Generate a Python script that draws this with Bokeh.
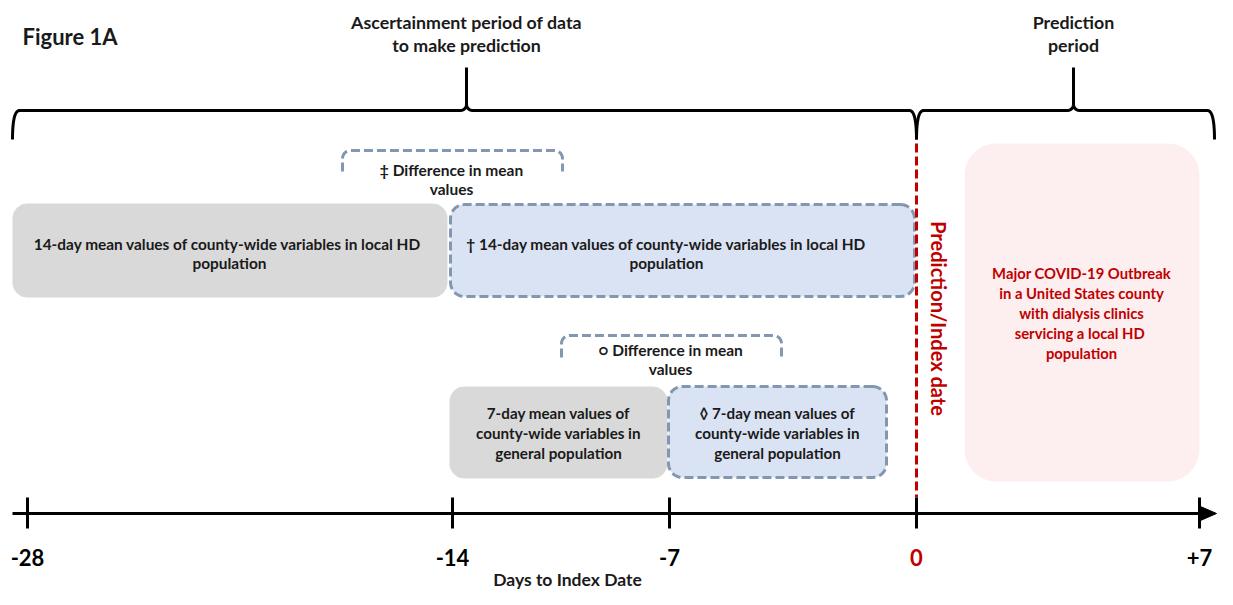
import numpy as np
from bokeh.plotting import figure
from bokeh.models import Range1d
from bokeh.core.properties import value
from bokeh.embed import file_html
from bokeh.resources import INLINE

# ---------------- data (texts / labels) ----------------
title = "Figure 1A"
period_labels = [["Ascertainment period of data", "to make prediction"],
                 ["Prediction", "period"]]
tick_labels = ["-28", "-14", "-7", "0", "+7"]
tick_days = [-28, -14, -7, 0, 7]
axis_title = "Days to Index Date"
box14_text = ["14-day mean values of county-wide variables in local  HD", "population"]
box14b_text = ["\u2020 14-day mean values of county-wide variables in local HD", "population"]
diff1_text = ["\u2021 Difference in mean", "values"]
diff2_text = ["\u25cb Difference in mean", "values"]
box7_text = ["7-day mean values of", "county-wide variables in", "general population"]
box7b_text = ["\u25ca 7-day mean values of", "county-wide variables in", "general population"]
outcome_text = ["Major COVID-19 Outbreak", "in a United States county",
                "with dialysis clinics", "servicing a local  HD", "population"]
index_label = "Prediction/Index date"

# ---------------- layout (pixel coordinates of the picture) ----------------
W, H = 1217, 589
tick_px = [27, 452, 669, 916, 1199]
FONT = value("Lato")
DARK = "#1a1a1a"
RED = "#c00000"
DASHC = "#8497b0"

p = figure(width=W, height=H, output_backend="svg", toolbar_location=None,
           x_range=Range1d(0, W), y_range=Range1d(H, 0),
           min_border=0, outline_line_color=None)
p.axis.visible = False
p.grid.visible = False
p.background_fill_color = "white"


def rrect(x0, y0, x1, y1, r, n=12):
    xs, ys = [], []
    corners = [(x1 - r, y0 + r, -np.pi / 2, 0), (x1 - r, y1 - r, 0, np.pi / 2),
               (x0 + r, y1 - r, np.pi / 2, np.pi), (x0 + r, y0 + r, np.pi, 1.5 * np.pi)]
    for cx, cy, a0, a1 in corners:
        t = np.linspace(a0, a1, n)
        xs += list(cx + r * np.cos(t))
        ys += list(cy + r * np.sin(t))
    return xs, ys


def open_bracket(x0, y0, x1, yb, r=8, n=10):
    xs, ys = [x0], [yb]
    t = np.linspace(np.pi, 1.5 * np.pi, n)
    xs += list(x0 + r + r * np.cos(t)); ys += list(y0 + r + r * np.sin(t))
    t = np.linspace(-np.pi / 2, 0, n)
    xs += list(x1 - r + r * np.cos(t)); ys += list(y0 + r + r * np.sin(t))
    xs.append(x1); ys.append(yb)
    return xs, ys


def quad(p0, c, p1, n=12):
    t = np.linspace(0, 1, n)[:, None]
    pts = (1 - t) ** 2 * np.array(p0) + 2 * (1 - t) * t * np.array(c) + t ** 2 * np.array(p1)
    return list(pts[:, 0]), list(pts[:, 1])


def brace(xl, xr, xm, yl=110, yend=139, ytop=67, r=7):
    xs, ys = [], []
    for a, b in [quad((xl, yend), (xl, yl), (xl + r, yl)),
                 quad((xm - r, yl), (xm, yl), (xm, yl - r))]:
        xs += a; ys += b
    xs += [xm]; ys += [ytop]
    xs2, ys2 = [], []
    for a, b in [quad((xm, yl - r), (xm, yl), (xm + r, yl)),
                 quad((xr - r, yl), (xr, yl), (xr, yend))]:
        xs2 += a; ys2 += b
    p.line(xs, ys, line_color="black", line_width=3)
    p.line(xs2, ys2, line_color="black", line_width=3)


def lines(texts, x, y0, dy, size, color=DARK, align="center"):
    p.text(x=[x] * len(texts), y=[y0 + i * dy for i in range(len(texts))], text=texts,
           text_font=FONT, text_font_style="bold", text_font_size=size,
           text_color=color, text_align=align, text_baseline="middle")


# title and period headers
lines([title], 22, 36, 0, "22px", align="left")
lines(period_labels[0], 466, 21, 23, "17.8px")
lines(period_labels[1], 1073, 21, 23, "17.8px")

# braces
brace(12, 916, 466)
brace(916, 1214, 1073)

# boxes
xs, ys = rrect(12, 203, 447, 297, 15)
p.patch(xs, ys, fill_color="#d9d9d9", line_color=None)
xs, ys = rrect(450, 204, 914, 296, 14)
p.patch(xs, ys, fill_color="#dae3f3", line_color=DASHC, line_width=3, line_dash="9 4")
xs, ys = rrect(449, 386, 667, 478, 15)
p.patch(xs, ys, fill_color="#d9d9d9", line_color=None)
xs, ys = rrect(668, 386, 886, 477, 14)
p.patch(xs, ys, fill_color="#dae3f3", line_color=DASHC, line_width=3, line_dash="9 4")
xs, ys = rrect(964, 143, 1199, 481, 32)
p.patch(xs, ys, fill_color="#fdeff0", line_color=None)

# dashed brackets
xs, ys = open_bracket(342, 150, 562, 171)
p.line(xs, ys, line_color=DASHC, line_width=3, line_dash="9 4")
xs, ys = open_bracket(561, 335, 781, 357)
p.line(xs, ys, line_color=DASHC, line_width=3, line_dash="9 4")

# texts in boxes
lines(box14_text, 229, 243, 19, "15.4px")
lines(box14b_text, 666, 243, 19, "15.4px")
lines(diff1_text, 451, 169, 19, "15.5px")
lines(diff2_text, 670, 349, 19, "15.5px")
lines(box7_text, 558, 412, 20, "15.2px")
lines(box7b_text, 777, 412, 20, "15.2px")
lines(outcome_text, 1081, 272, 20, "14.8px", color=RED)

# red dashed index line + vertical label
p.line([916, 916], [143, 497], line_color=RED, line_width=3, line_dash="9 4")
p.text(x=[938], y=[318], text=[index_label], angle=-np.pi / 2, text_font=FONT,
       text_font_style="bold", text_font_size="20px", text_color=RED,
       text_align="center", text_baseline="middle")

# time axis
p.line([12, 1204], [513, 513], line_color="black", line_width=3)
p.patch([1200, 1216, 1200], [506, 513, 520], fill_color="black", line_color="black")
p.multi_line([[x, x] for x in tick_px], [[497, 528]] * len(tick_px),
             line_color="black", line_width=3)
p.text(x=tick_px, y=[557] * len(tick_px), text=tick_labels, text_font=FONT,
       text_font_style="bold", text_font_size="22px",
       text_color=["black", "black", "black", RED, "black"],
       text_align="center", text_baseline="middle")
lines([axis_title], 567, 579, 0, "17.5px")

open("out.html", "w").write(file_html(p, INLINE))
